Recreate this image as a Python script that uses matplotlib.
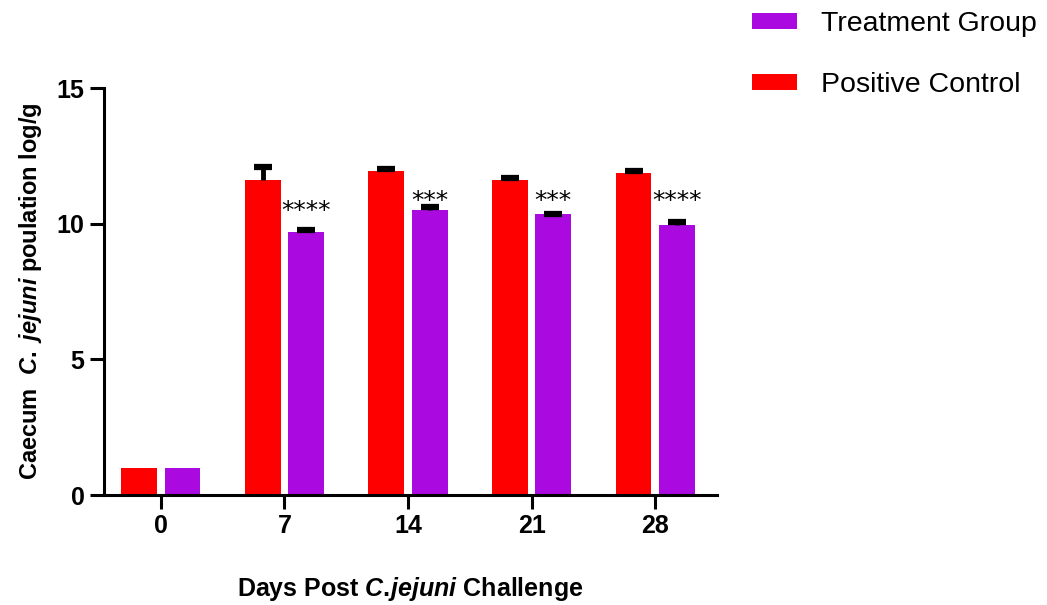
import numpy as np
import matplotlib.pyplot as plt

# values
days = ['0', '7', '14', '21', '28']
positive_control = [1.0, 11.6, 11.95, 11.6, 11.85]
positive_err = [0.0, 0.48, 0.08, 0.1, 0.1]
treatment = [1.0, 9.7, 10.5, 10.35, 9.95]
treatment_err = [0.0, 0.08, 0.1, 0.02, 0.1]
stars = ['', '****', '***', '***', '****']
star_y = [0.0, 10.45, 10.85, 10.85, 10.85]

RED = '#FF0000'
PURPLE = '#AA0AE0'

plt.rcParams['font.family'] = ['Liberation Sans', 'DejaVu Sans']
plt.rcParams['mathtext.fontset'] = 'custom'
plt.rcParams['mathtext.it'] = 'Liberation Sans:italic:bold'
plt.rcParams['mathtext.rm'] = 'Liberation Sans:bold'
plt.rcParams['mathtext.bf'] = 'Liberation Sans:bold'


def upper_errors(ax, xs, vals, errs):
    # only the upper half of the error bar, with a thick cap
    xs = np.asarray(xs)
    vals = np.asarray(vals)
    errs = np.asarray(errs)
    keep = errs > 0
    ax.vlines(xs[keep], vals[keep], vals[keep] + errs[keep], color='black', lw=3.5, zorder=3)
    ax.plot(xs[keep], vals[keep] + errs[keep], ls='none', marker='_', ms=13, mew=4.5,
            color='black', zorder=3)


fig = plt.figure(figsize=(10.47, 6.05), dpi=100)
ax = fig.add_axes([0.0993, 0.1818, 0.5855, 0.6727])

x = np.arange(len(days))
offset = 0.175
width = 0.29

ax.bar(x - offset, positive_control, width, color=RED, label='Positive Control', zorder=2)
ax.bar(x + offset, treatment, width, color=PURPLE, label='Treatment Group', zorder=2)

upper_errors(ax, x - offset, positive_control, positive_err)
upper_errors(ax, x + offset, treatment, treatment_err)

for xi, s, sy in zip(x, stars, star_y):
    if s:
        ax.text(xi + offset, sy, s, ha='center', va='center', fontsize=18,
                family='DejaVu Sans')

ax.set_xlim(-0.46, 4.5)
ax.set_ylim(0, 15)
ax.set_yticks([0, 5, 10, 15], ['0', '5', '10', '15'], fontsize=18, fontweight='bold')
ax.set_xticks(x, days, fontsize=18, fontweight='bold')

ax.spines['top'].set_visible(False)
ax.spines['right'].set_visible(False)
for sp in ['left', 'bottom']:
    ax.spines[sp].set_linewidth(2.2)
ax.tick_params(width=2.2, length=10, direction='out', pad=4)

ax.set_ylabel(r'Caecum  $\mathit{C.}\ \mathit{jejuni}$ poulation log/g',
              fontsize=17, fontweight='bold', labelpad=9)
ax.set_xlabel(r'Days Post $\mathit{C.\!jejuni}$ Challenge',
              fontsize=18, fontweight='bold', labelpad=26)

handles, labels = ax.get_legend_handles_labels()
fig.legend(handles[::-1], labels[::-1], loc='upper left', bbox_to_anchor=(0.705, 1.005),
           frameon=False, fontsize=20.5, handlelength=1.55, handleheight=0.5,
           handletextpad=0.85, labelspacing=1.22, borderpad=0)

fig.savefig('out.png', dpi=100)
